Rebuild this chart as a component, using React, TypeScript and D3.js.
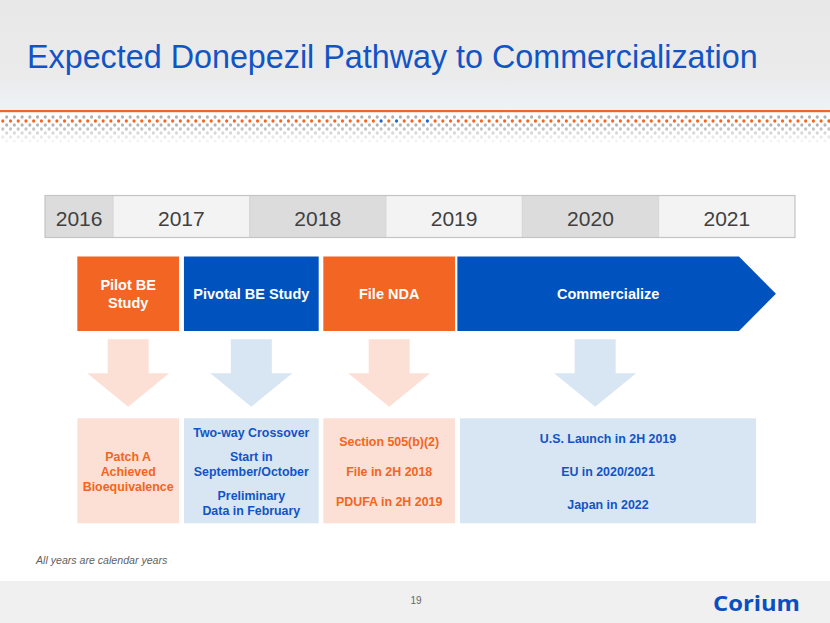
import React from "react";
import * as d3 from "d3";

const W = 830;
const H = 623;

const title = "Expected Donepezil Pathway to Commercialization";
const years = [2016, 2017, 2018, 2019, 2020, 2021];
const yearDomain = [2016.5, 2022];

const phaseLabels = [["Pilot BE", "Study"], ["Pivotal BE Study"], ["File NDA"], ["Commercialize"]];
const phaseStart = [2016.737, 2017.519, 2018.541, 2019.524];
const phaseEnd = [2017.483, 2018.507, 2019.507, 2021.589];
const phaseTip = [0, 0, 0, 2021.86];
const phaseColor = ["orange", "blue", "orange", "blue"];

const detailStart = [2016.737, 2017.519, 2018.541, 2019.543];
const detailEnd = [2017.483, 2018.507, 2019.507, 2021.714];
const detailParagraphs = [
  [["Patch A", "Achieved", "Bioequivalence"]],
  [["Two-way Crossover"], ["Start in", "September/October"], ["Preliminary", "Data in February"]],
  [["Section 505(b)(2)"], ["File in 2H 2018"], ["PDUFA in 2H 2019"]],
  [["U.S. Launch in 2H 2019"], ["EU in 2020/2021"], ["Japan in 2022"]],
];
const paragraphGap = [0, 9, 15, 18];
const arrowCenterShift = [0, 0, 0, -3];

const footnote = "All years are calendar years";
const pageNumber = "19";
const logo = "Corium";

const ORANGE = "#f26522";
const BLUE = "#0052be";
const TEXT_BLUE = "#1154c6";
const PINK_BG = "#fde0d5";
const BLUE_BG = "#d8e6f3";
const FONT = "'Liberation Sans', Arial, sans-serif";

export default function App() {
  const x = d3.scaleLinear().domain(yearDomain).range([45, 795]);
  const barTop = 195.5;
  const barH = 42;
  const phaseTop = 256.5;
  const phaseH = 74.5;
  const detTop = 418.3;
  const detH = 105;

  // decorative dot band
  const dotRows = [
    { y: 117, color: "#a6a6a6", op: 0.9, off: 3.86 },
    { y: 121, color: ORANGE, op: 1, off: 0 },
    { y: 125, color: "#a6a6a6", op: 0.85, off: 3.86 },
    { y: 129, color: "#a9a9a9", op: 0.7, off: 0 },
    { y: 133, color: "#b0b0b0", op: 0.5, off: 3.86 },
    { y: 137, color: "#b8b8b8", op: 0.32, off: 0 },
    { y: 141, color: "#c0c0c0", op: 0.16, off: 3.86 },
  ];
  const blueDotX = [379.3, 395, 425.9];
  const dots: any[] = [];
  dotRows.forEach((r, ri) => {
    for (let cx = 2.8 + r.off; cx < W; cx += 7.72) {
      let color = r.color;
      if (ri === 1 && blueDotX.some((b) => Math.abs(b - cx) < 2.5)) color = "#2a62c0";
      dots.push(
        <ellipse key={`${ri}-${cx.toFixed(1)}`} cx={cx} cy={r.y} rx={1.6} ry={1.8} fill={color} opacity={r.op} />
      );
    }
  });

  return (
    <div style={{ position: "absolute", left: 0, top: 0 }}>
      <svg width={W} height={H} viewBox={`0 0 ${W} ${H}`} style={{ display: "block" }} fontFamily={FONT}>
        <defs>
          <linearGradient id="hdr" x1="0" y1="0" x2="0" y2="1">
            <stop offset="0" stopColor="#e8e8e8" />
            <stop offset="0.7" stopColor="#ebebeb" />
            <stop offset="1" stopColor="#eef2f8" />
          </linearGradient>
        </defs>
        <rect x={0} y={0} width={W} height={H} fill="#ffffff" />
        <rect x={0} y={0} width={W} height={110} fill="url(#hdr)" />
        <rect x={0} y={110} width={W} height={2.2} fill={ORANGE} />
        {dots}
        <text x={27} y={68} fontSize={32.3} fill={TEXT_BLUE}>
          {title}
        </text>

        {/* year bar */}
        <g>
          {years.map((yr, i) => {
            const x0 = x(Math.max(yr, yearDomain[0]));
            const x1 = x(yr + 1);
            return (
              <g key={yr}>
                <rect x={x0} y={barTop} width={x1 - x0} height={barH} fill={i % 2 === 0 ? "#dcdcdc" : "#f3f3f3"} />
                <text x={(x0 + x1) / 2} y={barTop + 30.5} textAnchor="middle" fontSize={21} fill="#404040">
                  {yr}
                </text>
              </g>
            );
          })}
          {years.slice(1).map((yr) => (
            <line key={"l" + yr} x1={x(yr)} x2={x(yr)} y1={barTop} y2={barTop + barH} stroke="#d0d0d0" strokeWidth={0.8} />
          ))}
          <rect x={x(yearDomain[0])} y={barTop} width={x(yearDomain[1]) - x(yearDomain[0])} height={barH} fill="none" stroke="#c4c4c4" strokeWidth={1.2} />
        </g>

        {/* phases */}
        {phaseLabels.map((lines, i) => {
          const x0 = x(phaseStart[i]);
          const x1 = x(phaseEnd[i]);
          const fill = phaseColor[i] === "orange" ? ORANGE : BLUE;
          const cy = phaseTop + phaseH / 2;
          let shape;
          let cx = (x0 + x1) / 2;
          if (phaseTip[i]) {
            const xt = x(phaseTip[i]);
            const p = d3.path();
            p.moveTo(x0, phaseTop);
            p.lineTo(x1, phaseTop);
            p.lineTo(xt, cy);
            p.lineTo(x1, phaseTop + phaseH);
            p.lineTo(x0, phaseTop + phaseH);
            p.closePath();
            shape = <path d={p.toString()} fill={fill} />;
            cx = (x0 + x1) / 2 + 10;
          } else {
            shape = <rect x={x0} y={phaseTop} width={x1 - x0} height={phaseH} fill={fill} />;
          }
          const lh = 18;
          return (
            <g key={"ph" + i}>
              {shape}
              {lines.map((ln, j) => (
                <text
                  key={j}
                  x={cx}
                  y={cy + (j - (lines.length - 1) / 2) * lh}
                  dy="0.36em"
                  textAnchor="middle"
                  fontSize={14.5}
                  fontWeight="bold"
                  fill="#ffffff"
                >
                  {ln}
                </text>
              ))}
            </g>
          );
        })}

        {/* down arrows */}
        {phaseLabels.map((_, i) => {
          const cx = (x(phaseStart[i]) + x(phaseEnd[i])) / 2 + arrowCenterShift[i];
          const top = 339.3;
          const headY = 373.3;
          const tip = 406.8;
          const sw = 20.5;
          const hw = 41;
          const p = d3.path();
          p.moveTo(cx - sw, top);
          p.lineTo(cx + sw, top);
          p.lineTo(cx + sw, headY);
          p.lineTo(cx + hw, headY);
          p.lineTo(cx, tip);
          p.lineTo(cx - hw, headY);
          p.lineTo(cx - sw, headY);
          p.closePath();
          return <path key={"ar" + i} d={p.toString()} fill={phaseColor[i] === "orange" ? PINK_BG : BLUE_BG} />;
        })}

        {/* detail boxes */}
        {detailParagraphs.map((paras, i) => {
          const x0 = x(detailStart[i]);
          const x1 = x(detailEnd[i]);
          const isOrange = phaseColor[i] === "orange";
          const lh = 15.2;
          const ys: number[] = [];
          let cur = 0;
          paras.forEach((para, pi) => {
            if (pi > 0) cur += lh + paragraphGap[i];
            para.forEach((_, li) => {
              if (li > 0) cur += lh;
              ys.push(cur);
            });
          });
          const total = ys[ys.length - 1];
          const centerY = 471.6;
          const flat = paras.flat();
          return (
            <g key={"dt" + i}>
              <rect x={x0} y={detTop} width={x1 - x0} height={detH} fill={isOrange ? PINK_BG : BLUE_BG} />
              {flat.map((ln, j) => (
                <text
                  key={j}
                  x={(x0 + x1) / 2}
                  y={centerY - total / 2 + ys[j]}
                  dy="0.36em"
                  textAnchor="middle"
                  fontSize={12.4}
                  fontWeight="bold"
                  fill={isOrange ? ORANGE : TEXT_BLUE}
                >
                  {ln}
                </text>
              ))}
            </g>
          );
        })}

        <text x={36} y={564} fontSize={10.6} fontStyle="italic" fill="#5f5f5f">
          {footnote}
        </text>

        {/* footer */}
        <rect x={0} y={581} width={W} height={H - 581} fill="#f0f0f0" />
        <text x={416} y={604} textAnchor="middle" fontSize={10} fill="#666666">
          {pageNumber}
        </text>
        <text
          x={713}
          y={611}
          fontSize={22}
          fontWeight="bold"
          fill="#0a4fc0"
          fontFamily="'Open Sans', 'Noto Sans', sans-serif"
          textLength={87}
          lengthAdjust="spacingAndGlyphs"
        >
          {logo}
        </text>
      </svg>
    </div>
  );
}
